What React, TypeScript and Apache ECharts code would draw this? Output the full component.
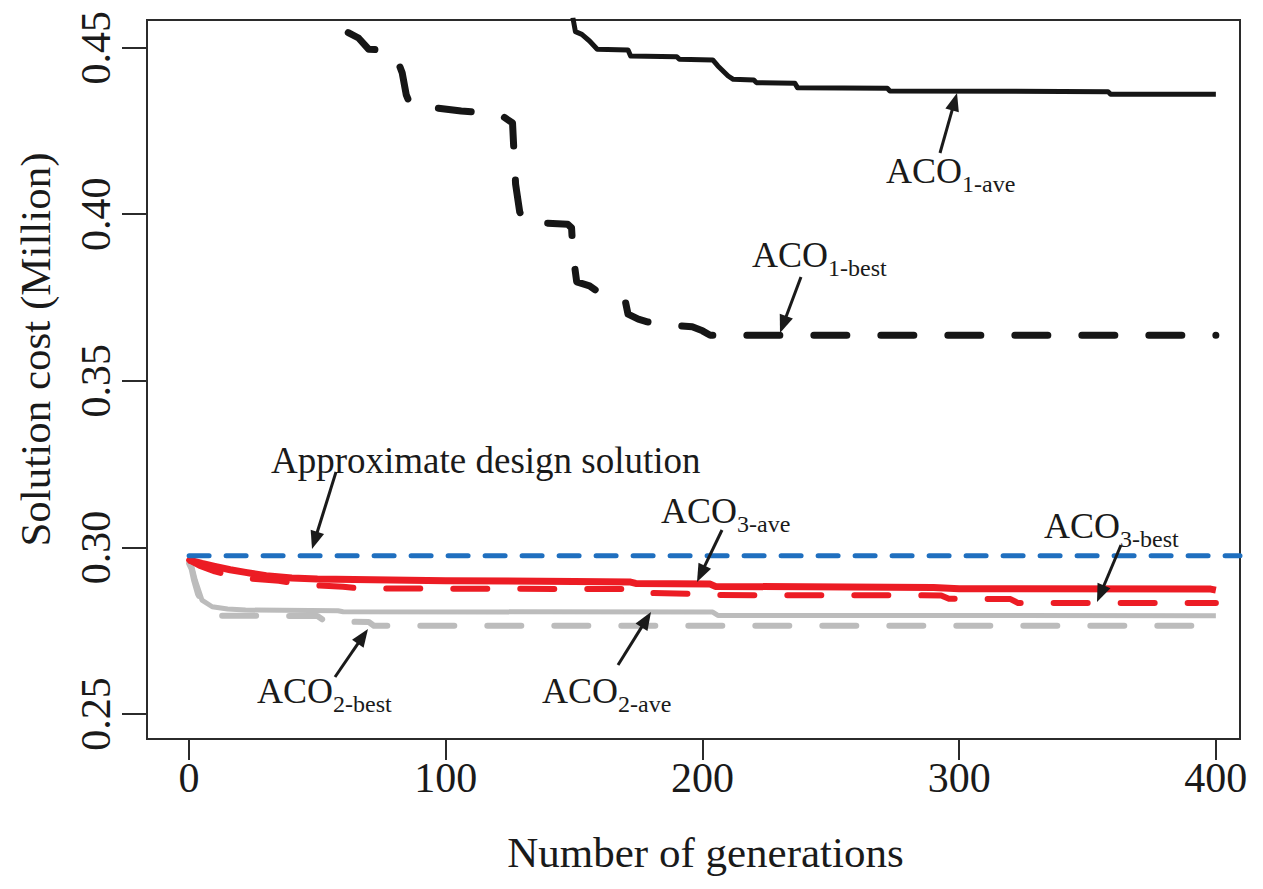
import React, { useEffect, useRef } from "react";
import * as echarts from "echarts";

// ---- tick labels ----
const xTicks = [0, 100, 200, 300, 400];
const yTicks = [0.25, 0.3, 0.35, 0.4, 0.45];

// ---- series values [generation, cost (million)] ----
const aco1Ave = [
  [149.5, 0.459], [150.5, 0.4548], [153, 0.454], [156, 0.452], [159, 0.4495], [171, 0.4493],
  [172, 0.4475], [190, 0.4473], [191, 0.4465], [204, 0.4463], [206, 0.4445], [210, 0.4415],
  [212, 0.4405], [220, 0.4403], [221, 0.4395], [236, 0.4393], [237, 0.438], [272, 0.4378],
  [273, 0.437], [358, 0.4368], [359, 0.436], [400, 0.436],
];
const aco1Best = [
  [62, 0.4545], [66, 0.4529], [70, 0.4495], [77, 0.4493], [81, 0.4465], [83, 0.4425],
  [84.6, 0.4358], [86, 0.4332], [92, 0.4323], [106, 0.431], [116, 0.4304], [122, 0.4295],
  [126, 0.4274], [126.6, 0.418], [127.2, 0.409], [128.8, 0.4007], [130.5, 0.3976],
  [138, 0.3974], [147.5, 0.397], [149, 0.3959], [149.6, 0.3878], [151, 0.3797], [156, 0.3785],
  [161, 0.3758], [170, 0.3737], [171, 0.37], [175, 0.3685], [178.5, 0.3677], [188, 0.3667],
  [196, 0.3662], [200, 0.365], [203, 0.3637], [400, 0.3637],
];
const aco2Ave = [
  [0, 0.2952], [1, 0.2945], [2.4, 0.2902], [5, 0.2842], [9, 0.2822], [15, 0.2815],
  [22, 0.2812], [58, 0.281], [60, 0.2807], [204, 0.2806], [206, 0.2796], [400, 0.2795],
];
const aco2Best = [
  [0, 0.2952], [1, 0.2935], [2, 0.29], [3.5, 0.286], [5.5, 0.283], [8, 0.2805], [11, 0.2795],
  [50, 0.2794], [53, 0.2778], [70, 0.2776], [72, 0.2765], [400, 0.2765],
];
const aco3Ave = [
  [0, 0.2962], [5, 0.2952], [10, 0.2943], [16, 0.2933], [22, 0.2925], [30, 0.2915],
  [40, 0.2908], [50, 0.2905], [100, 0.29], [150, 0.2898], [172, 0.2896], [174, 0.2892],
  [203, 0.289], [205, 0.2883], [290, 0.288], [300, 0.2876], [398, 0.2875], [400, 0.2872],
];
const aco3Best = [
  [0, 0.2962], [4, 0.2945], [10, 0.2928], [18, 0.2912], [26, 0.2905], [35, 0.29],
  [44, 0.2888], [60, 0.2882], [66, 0.2877], [170, 0.2875], [173, 0.2864], [195, 0.2861],
  [198, 0.2857], [293, 0.2856], [296, 0.2846], [320, 0.2845], [323, 0.2833], [400, 0.2833],
];
const approxDesign = [
  [0, 0.2975], [409.4, 0.2975],
];

const FONT = "'Liberation Serif', 'Times New Roman', serif";
const INK = "#1a1a1a";

function arrow(x1: number, y1: number, x2: number, y2: number) {
  const dx = x2 - x1;
  const dy = y2 - y1;
  const len = Math.sqrt(dx * dx + dy * dy);
  const ux = dx / len;
  const uy = dy / len;
  const hl = 18;
  const hw = 7;
  const bx = x2 - ux * hl;
  const by = y2 - uy * hl;
  return [
    {
      type: "line",
      shape: { x1, y1, x2: bx + ux * 2, y2: by + uy * 2 },
      style: { stroke: INK, lineWidth: 3 },
      z: 100,
    },
    {
      type: "polygon",
      shape: {
        points: [
          [x2, y2],
          [bx - uy * hw, by + ux * hw],
          [bx + uy * hw, by - ux * hw],
        ],
      },
      style: { fill: INK },
      z: 100,
    },
  ];
}

function label(x: number, baseline: number, main: string, sub: string) {
  const fs = 36;
  const sfs = 24;
  const out: any[] = [
    {
      type: "text",
      x,
      y: baseline - 0.34 * fs,
      style: { text: main, font: `${fs}px ${FONT}`, fill: INK, align: "left", verticalAlign: "middle" },
      z: 100,
    },
  ];
  if (sub) {
    out.push({
      type: "text",
      x: x + 2.111 * fs,
      y: baseline + 9 - 0.34 * sfs,
      style: { text: sub, font: `${sfs}px ${FONT}`, fill: INK, align: "left", verticalAlign: "middle" },
      z: 100,
    });
  }
  return out;
}

export default function App() {
  const ref = useRef<HTMLDivElement>(null);
  useEffect(() => {
    if (!ref.current) return;
    const chart = echarts.init(ref.current, null, { renderer: "svg" });
    const axisText = { fontFamily: FONT, fontSize: 42, color: INK };
    const lineSeries = (name: string, data: number[][], color: string, width: number, dash?: number[], z = 2) => ({
      type: "line",
      name,
      data,
      showSymbol: false,
      symbol: "none",
      z,
      clip: true,
      lineStyle: {
        color,
        width,
        type: dash ? dash : "solid",
        cap: dash ? "round" : "butt",
        join: "round",
      },
    });
    chart.setOption({
      animation: false,
      backgroundColor: "#ffffff",
      grid: {
        left: 147,
        top: 20,
        width: 1093,
        height: 719,
        show: true,
        borderColor: "#2b2b2b",
        borderWidth: 2,
        backgroundColor: "transparent",
      },
      xAxis: {
        type: "value",
        min: -16.4,
        max: 409.4,
        splitLine: { show: false },
        axisLine: { show: false, onZero: false },
        axisTick: { show: true, length: 21, customValues: xTicks, lineStyle: { color: "#2b2b2b", width: 2 } },
        axisLabel: { customValues: xTicks, margin: 18, ...axisText },
        name: "Number of generations",
        nameLocation: "middle",
        nameGap: 92,
        nameTextStyle: { fontFamily: FONT, fontSize: 43, color: INK, padding: [0, 0, 0, 24] },
      },
      yAxis: {
        type: "value",
        min: 0.2425,
        max: 0.4583,
        splitLine: { show: false },
        axisLine: { show: false, onZero: false },
        axisTick: { show: true, length: 25, customValues: yTicks, lineStyle: { color: "#2b2b2b", width: 2 } },
        axisLabel: {
          customValues: yTicks,
          margin: 30,
          rotate: 90,
          formatter: (v: number) => v.toFixed(2),
          ...axisText,
        },
        name: "Solution cost (Million)",
        nameLocation: "middle",
        nameGap: 90,
        nameTextStyle: { fontFamily: FONT, fontSize: 43, color: INK, padding: [0, 0, 0, 60] },
      },
      series: [
        lineSeries("ACO2-ave", aco2Ave, "#bcbcbc", 5),
        lineSeries("ACO2-best", aco2Best, "#bcbcbc", 6, [34, 33]),
        lineSeries("ACO3-ave", aco3Ave, "#ec1c24", 7, undefined, 3),
        lineSeries("ACO3-best", aco3Best, "#ec1c24", 6, [34, 33], 3),
        lineSeries("ACO1-ave", aco1Ave, "#161616", 5, undefined, 4),
        lineSeries("ACO1-best", aco1Best, "#161616", 7, [33, 34], 4),
        lineSeries("Approximate design solution", approxDesign, "#1f6fbf", 5, [20, 17], 5),
      ],
      graphic: [
        ...label(886, 183, "ACO", "1-ave"),
        ...arrow(940, 153, 957, 93),
        ...label(752, 267, "ACO", "1-best"),
        ...arrow(801, 277, 780, 333),
        {
          type: "text",
          x: 271,
          y: 473 - 0.34 * 37,
          style: { text: "Approximate design solution", font: `37px ${FONT}`, fill: INK, align: "left", verticalAlign: "middle" },
          z: 100,
        },
        ...arrow(336, 472, 312, 549),
        ...label(661, 523, "ACO", "3-ave"),
        ...arrow(722, 530, 697, 582),
        ...label(1044, 538, "ACO", "3-best"),
        ...arrow(1121, 545, 1097, 602),
        ...label(257, 703, "ACO", "2-best"),
        ...arrow(335, 677, 368, 629),
        ...label(542, 703, "ACO", "2-ave"),
        ...arrow(618, 665, 651, 612),
      ],
    });
    return () => chart.dispose();
  }, []);
  return (
    <div
      ref={ref}
      style={{ position: "absolute", left: 0, top: 0, width: 1263, height: 889, background: "#fff" }}
    />
  );
}
